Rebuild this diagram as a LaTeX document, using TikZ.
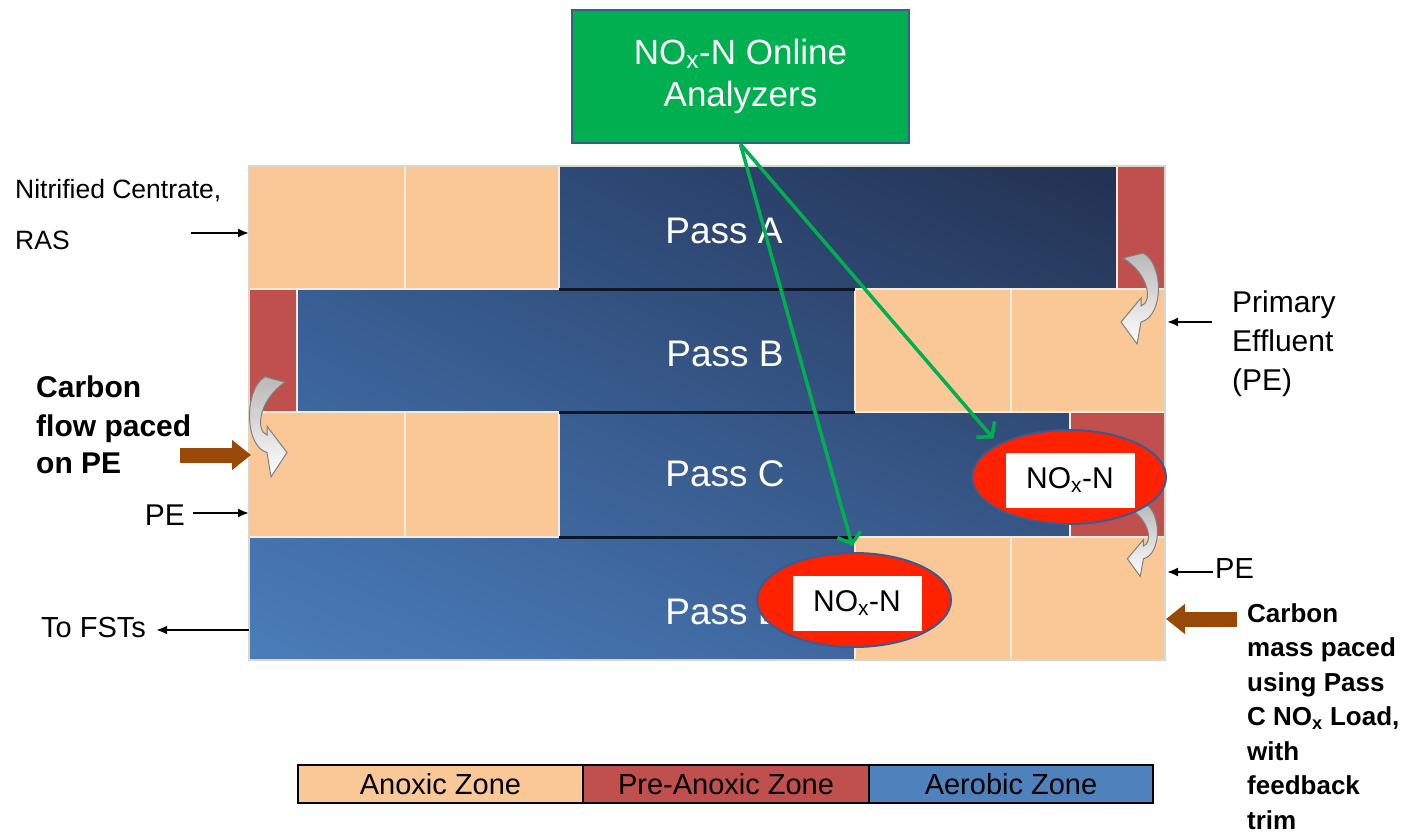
\documentclass[tikz,border=0pt]{standalone}
\usepackage{fontspec}
\setmainfont{Liberation Sans}
\usetikzlibrary{arrows.meta,shapes.geometric,shadings}
\definecolor{anox}{HTML}{FAC896}
\definecolor{preanox}{HTML}{C0504D}
\definecolor{aerob}{HTML}{4F81BD}
\definecolor{grn}{HTML}{00B050}
\definecolor{edgeblue}{HTML}{3B5A8E}
\definecolor{brn}{HTML}{984807}
\definecolor{cellline}{HTML}{F2ECDF}
\definecolor{nred}{HTML}{FF2200}
\definecolor{aeroLL}{HTML}{4A7DBA}
\definecolor{aeroUL}{HTML}{33568A}
\definecolor{aeroUR}{HTML}{222F4D}
\definecolor{aeroLR}{HTML}{3A5D92}
\definecolor{wallc}{HTML}{0E1626}
\definecolor{arrgray}{HTML}{B8B8B8}
\definecolor{arredge}{HTML}{7F7F7F}
\tikzset{
  curv/.pic={
    \shade[top color=arrgray, bottom color=white, draw=arredge, line width=1pt]
      (-10,2) -- (10,-3) .. controls (31,8) and (31,60) .. (8,66) -- (4,88) -- (-12,66) -- (8,42) -- (8,50) .. controls (20,46) and (16,18) .. (-10,2) -- cycle;
  }
}
\begin{document}
\begin{tikzpicture}[x=1pt,y=-1pt,
  anoxcell/.style={fill=anox, draw=cellline, line width=2pt},
  precell/.style={fill=preanox, draw=cellline, line width=2pt},
  aerocell/.style={draw=cellline, line width=2pt},
  wall/.style={draw=wallc, line width=3pt},
  passlbl/.style={text=white, font=\fontsize{37}{44}\selectfont, inner sep=0pt},
  lbl/.style={font=\fontsize{29}{35}\selectfont, inner sep=0pt, anchor=base west},
  blbl/.style={font=\fontsize{30}{36}\selectfont\bfseries, inner sep=0pt, anchor=base west},
  rblbl/.style={font=\fontsize{26}{32}\selectfont\bfseries, inner sep=0pt, anchor=base west},
  thinarr/.style={draw=black, line width=2pt, -{Latex[length=11pt,width=9pt]}},
  brownarr/.style={draw=brn, line width=15pt, -{Triangle[length=19pt,width=29pt]}},
  garr/.style={draw=grn, line width=3.5pt, -{Straight Barb[length=10pt,width=24pt]}},
  noxell/.style={ellipse, fill=nred, draw=edgeblue, line width=2pt, minimum width=194pt, minimum height=94pt, inner sep=0pt},
  noxbox/.style={fill=white, minimum width=129pt, minimum height=55pt, inner sep=0pt, font=\fontsize{30}{36}\selectfont},
  legcell/.style={draw=black, line width=1.5pt, minimum height=38pt, inner sep=0pt, font=\fontsize{29}{35}\selectfont}
]
\fill[white] (0,0) rectangle (1406,833);
\useasboundingbox (0,0) rectangle (1406,833);

% aerobic background with diagonal gradient
\shade[upper left=aeroUL, upper right=aeroUR, lower left=aeroLL, lower right=aeroLR] (249,166) rectangle (1165,660);
\draw[aerocell] (559,166) rectangle (1117,289) (297,289) rectangle (855,412)
  (559,412) rectangle (1070,537) (249,537) rectangle (855,660);

% Pass A
\draw[anoxcell] (249,166) rectangle (405,289);
\draw[anoxcell] (405,166) rectangle (559,289);
\draw[precell] (1117,166) rectangle (1165,289);
% Pass B
\draw[precell] (249,289) rectangle (297,412);
\draw[anoxcell] (855,289) rectangle (1011,412);
\draw[anoxcell] (1011,289) rectangle (1165,412);
% Pass C
\draw[anoxcell] (249,412) rectangle (405,537);
\draw[anoxcell] (405,412) rectangle (559,537);
\draw[precell] (1070,412) rectangle (1165,537);
% Pass D
\draw[anoxcell] (855,537) rectangle (1011,660);
\draw[anoxcell] (1011,537) rectangle (1165,660);

% walls between aerobic zones
\draw[wall] (559,289) -- (855,289);
\draw[wall] (559,412) -- (855,412);
\draw[wall] (559,537) -- (855,537);
\draw[draw=cellline!80!gray, line width=1.5pt] (249,166) rectangle (1165,660);

% pass labels
\node[passlbl] (pA) at (724,231) {Pass A};
\node[passlbl] (pB) at (725,354) {Pass B};
\node[passlbl] (pC) at (725,474) {Pass C};
\node[passlbl] (pD) at (725,612) {Pass D};

% curved transfer arrows
\pic at (1133,256) {curv};
\pic[xscale=-1,yscale=1.1] at (275,380) {curv};
\pic[scale=0.8] at (1137,506) {curv};

% analyzer box and green arrows
\node[draw=edgeblue, fill=grn, line width=2.5pt, minimum width=337pt, minimum height=133pt,
      text=white, align=center, font=\fontsize{35}{42}\selectfont] (an) at (740.5,76.5)
      {NO\textsubscript{x}-N Online\\Analyzers};

\node[noxell] (ellC) at (1069,477) {};
\node[noxbox] (boxC) at (1070,480) {NO\textsubscript{x}-N};
\node[noxell] (ellD) at (854,600) {};
\node[noxbox] (boxD) at (857,603) {NO\textsubscript{x}-N};

\draw[garr, shorten >=7pt] (an.south) -- (ellC.155);
\draw[garr, shorten >=6pt] (an.south) -- (ellD.north);

% tank edge points
\coordinate (tRAS) at (249,233);
\coordinate (tPE1) at (249,513);
\coordinate (tFST) at (249,630);
\coordinate (tPEB) at (1167,322);
\coordinate (tPE2) at (1167,572);
\coordinate (tCL) at (251,455);
\coordinate (tCR) at (1166,619);

% left labels
\node[lbl, font=\fontsize{26.5}{32}\selectfont] (nc1) at (15,198) {Nitrified Centrate,};
\node[lbl, font=\fontsize{26.5}{32}\selectfont] (nc2) at (15,249) {RAS};
\coordinate (rasS) at (191,233);
\draw[thinarr] (rasS) -- (tRAS);

\node[blbl] (cf1) at (36,397) {Carbon};
\node[blbl] (cf2) at (36,436) {flow paced};
\node[blbl] (cf3) at (36,473) {on PE};
\coordinate (cfS) at (180,455);
\draw[brownarr] (cfS) -- (tCL);

\node[lbl, font=\fontsize{30}{36}\selectfont, anchor=base east] (pe1) at (185,525) {PE};
\draw[thinarr, shorten <=8pt] (pe1.east |- tPE1) -- (tPE1);

\node[lbl] (fst) at (41,637) {To FSTs};
\draw[thinarr, shorten >=10pt] (tFST) -- (tFST -| fst.east);

% right labels
\node[lbl, font=\fontsize{30}{36}\selectfont] (pr1) at (1232,312) {Primary};
\node[lbl, font=\fontsize{30}{36}\selectfont] (pr2) at (1232,351) {Effluent};
\node[lbl, font=\fontsize{30}{36}\selectfont] (pr3) at (1232,390) {(PE)};
\coordinate (prS) at (1212,322);
\draw[thinarr] (prS) -- (tPEB);

\node[lbl] (pe2) at (1215,578) {PE};
\draw[thinarr, shorten <=2pt] (pe2.west |- tPE2) -- (tPE2);

\coordinate (cmS) at (1237,619);
\draw[brownarr] (cmS) -- (tCR);
\node[rblbl] (cm1) at (1247,622) {Carbon};
\node[rblbl] (cm2) at (1247,656.5) {mass paced};
\node[rblbl] (cm3) at (1247,691) {using Pass};
\node[rblbl] (cm4) at (1247,725.5) {C NO\textsubscript{x} Load,};
\node[rblbl] (cm5) at (1247,760) {with};
\node[rblbl] (cm6) at (1247,794.5) {feedback};
\node[rblbl] (cm7) at (1247,829) {trim};

% legend
\node[legcell, fill=anox, minimum width=285pt] (lg1) at (440.5,784) {Anoxic Zone};
\node[legcell, fill=preanox, minimum width=286pt] (lg2) at (726,784) {Pre-Anoxic Zone};
\node[legcell, fill=aerob, minimum width=284pt] (lg3) at (1011,784) {Aerobic Zone};
\end{tikzpicture}
\end{document}
